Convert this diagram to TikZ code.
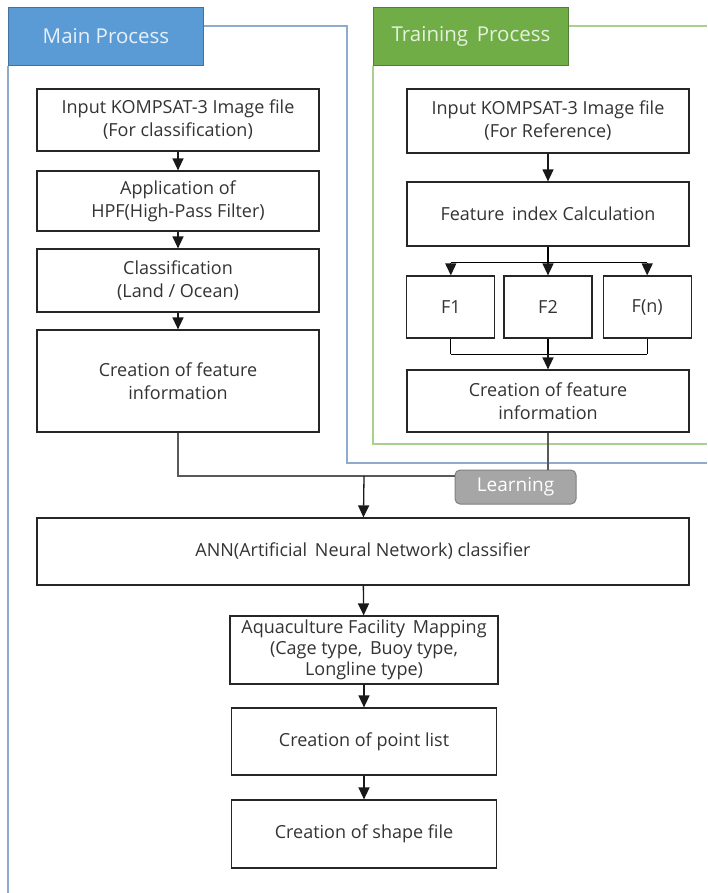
\documentclass[tikz,border=0pt]{standalone}
\usepackage{fontspec}
\setmainfont{Open Sans}
\usetikzlibrary{arrows.meta, positioning, calc}

\definecolor{tabblue}{RGB}{91,155,213}
\definecolor{tabblueline}{RGB}{65,113,156}
\definecolor{frameblue}{RGB}{143,172,205}
\definecolor{tabgreen}{RGB}{112,173,71}
\definecolor{tabgreenline}{RGB}{80,126,50}
\definecolor{framegreen}{RGB}{169,208,142}
\definecolor{learngray}{RGB}{166,166,166}

\begin{document}
\begin{tikzpicture}[
      x=1pt, y=-1pt,
      box/.style={rectangle, draw=black!85, line width=1.2pt, align=center, inner sep=1pt,
        minimum width=282pt, font=\fontsize{18}{23}\selectfont, text=black!80},
      fbox/.style={box, minimum width=88pt, minimum height=62pt},
      tab/.style={rectangle, anchor=north west, minimum width=195pt, minimum height=58pt,
        line width=1pt, font=\fontsize{20.5}{24}\selectfont, text=white!85!tabblue},
      link/.style={draw=black!65, line width=2pt},
      arrow/.style={->, line width=1.3pt, draw=black!90},
      learn/.style={rectangle, rounded corners=5pt, fill=learngray, draw=black!50, line width=1pt,
        minimum width=121pt, minimum height=34pt, text=white, font=\fontsize{19}{22}\selectfont},
      >={Triangle[length=12pt, width=11pt]}
    ]

    \useasboundingbox (0,0) rectangle (707,893);

    % Process frames
    \node[tab, fill=tabblue, draw=tabblueline] (maintab) at (8,7) {Main Process};
    \node[tab, fill=tabgreen, draw=tabgreenline, text=white!82!tabgreen] (traintab) at (373,7) {Training\, Process};
    \draw[frameblue, line width=1.5pt] (maintab.east |- 0,26) -- (347,26) -- (347,463) -- (707,463);
    \draw[frameblue, line width=1.5pt] (maintab.south west) -- (8,893);
    \draw[framegreen, line width=1.5pt] (traintab.east |- 0,26) -- (707,26);
    \draw[framegreen, line width=1.5pt] (traintab.south west) -- (373,444) -- (707,444);

    % Main process
    \node[box, minimum height=62pt] (input) at (178,120) {Input KOMPSAT-3 Image file\\(For classification)};
    \node[box, minimum height=60pt] (hpf) at (178,201) {Application of\\HPF(High-Pass Filter)};
    \node[box, minimum height=63pt] (landsea) at (178,280.5) {Classification\\(Land / Ocean)};
    \node[box, minimum height=102pt] (feature) at (178,381) {Creation of feature\\information};

    % Training process
    \node[box, minimum height=64pt] (refinput) at (548,121) {Input KOMPSAT-3 Image file\\(For Reference)};
    \node[box, minimum height=64pt] (index) at (548,214) {Feature\, index Calculation};
    \node[fbox] (f2) at (548,307) {F2};
    \node[fbox, left=8pt of f2] (f1) {F1};
    \node[fbox, right=10pt of f2] (fn) {F(n)};
    \node[box, minimum height=62pt] (reffeature) at (548,401) {Creation of feature\\information};

    % Learning and classifier
    \node[learn] (learning) at (515.5,487) {Learning};
    \node[box, minimum width=652pt, minimum height=67pt] (ann) at (363,551.5) {ANN(Artificial\, Neural Network) classifier};
    \node[box, minimum width=268pt, minimum height=68pt, inner sep=0pt, font=\fontsize{18}{21}\selectfont] (mapping) at (364,650) {Aquaculture Facility\, Mapping\\(Cage type,\, Buoy type,\\Longline type)};
    \node[box, minimum width=265pt, minimum height=67pt] (points) at (364,741.5) {Creation of point list};
    \node[box, minimum width=265pt, minimum height=68pt] (shape) at (364,834) {Creation of shape file};

    \coordinate (split) at ($(index.south)+(0,16)$);
    \coordinate (merge) at ($(reffeature.north)+(0,-15)$);
    \coordinate (join) at (364,476);

    % Connections
    \draw[arrow] (input) -- (hpf);
    \draw[arrow] (hpf) -- (landsea);
    \draw[arrow] (landsea) -- (feature);
    \draw[arrow] (refinput) -- (index);
    \draw[line width=1.3pt] (index) -- (split);
    \draw[line width=1.3pt] (split -| f1) -- (split -| fn);
    \foreach \f in {f1,f2,fn} {
      \draw[arrow] (split -| \f) -- (\f);
      \draw[line width=1.3pt] (\f) -- (merge -| \f);
    }
    \draw[line width=1.3pt] (merge -| f1) -- (merge -| fn);
    \draw[arrow] (merge) -- (reffeature);
    \draw[link] (feature.south) |- (learning.west |- join);
    \draw[link] (reffeature.south) -- (learning.north -| reffeature.south);
    \draw[arrow] (join) -- (ann);
    \draw[arrow] (ann) -- (mapping);
    \draw[arrow] (mapping) -- (points);
    \draw[arrow] (points) -- (shape);

\end{tikzpicture}
\end{document}
